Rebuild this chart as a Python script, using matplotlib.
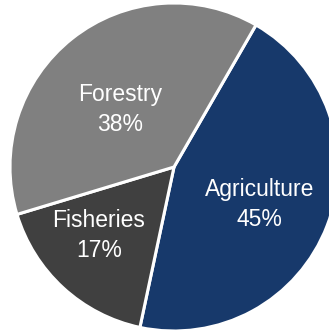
import matplotlib
matplotlib.use("Agg")
import matplotlib.pyplot as plt
import numpy as np

plt.rcParams['font.family'] = ['Liberation Sans', 'DejaVu Sans']

categories = ["Agriculture", "Fisheries", "Forestry"]
shares = [45, 17, 38]
colors = ["#17396B", "#404040", "#808080"]

# label placement: distance from centre (fraction of radius) and angular nudge (deg)
label_radius = [0.57, 0.62, 0.48]
label_nudge = [-2.5, -5.0, 5.0]

W, H, DPI = 329, 331, 100
fig = plt.figure(figsize=(W / DPI, H / DPI), dpi=DPI)
ax = fig.add_axes([0, 0, 1, 1])

wedges, _ = ax.pie(shares, colors=colors, startangle=60, counterclock=False,
                   radius=1.0, center=(0, 0),
                   wedgeprops=dict(edgecolor="white", linewidth=2.2))

for w, name, val, rr, dth in zip(wedges, categories, shares, label_radius, label_nudge):
    mid = np.deg2rad((w.theta1 + w.theta2) / 2 + dth)
    ax.text(rr * np.cos(mid), rr * np.sin(mid), f"{name}\n{val}%",
            ha="center", va="center", color="white", fontsize=16.5,
            linespacing=1.4)

# pie centre sits at pixel (174, 167) with a radius of 164 px
scale = 164.0
cx, cy = 174.0, 167.0
ax.set_xlim(-cx / scale, (W - cx) / scale)
ax.set_ylim(-(H - cy) / scale, cy / scale)
ax.set_aspect("auto")
ax.axis("off")

fig.savefig("out.png", dpi=DPI, facecolor="white")
